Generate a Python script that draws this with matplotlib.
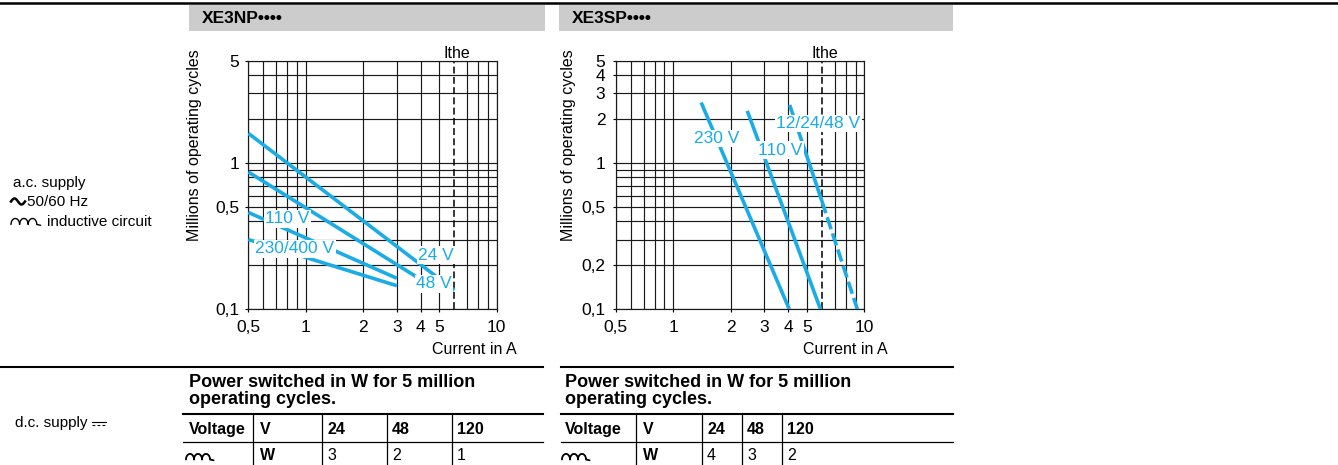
import numpy as np
import matplotlib
matplotlib.use('Agg')
import matplotlib.pyplot as plt
from matplotlib.ticker import FixedLocator, FixedFormatter, NullFormatter
from matplotlib.patches import Rectangle

plt.rcParams['font.family'] = ['Liberation Sans', 'DejaVu Sans']

W, H = 1338, 465
CYAN = '#1aace6'
GRID = '#1a1a1a'

# XE3NP, a.c. inductive: current (A) -> millions of operating cycles
np_series = ['24 V', '48 V', '110 V', '230/400 V']
np_current = [[0.5, 6.0], [0.5, 3.85], [0.5, 3.0], [0.5, 3.0]]
np_cycles = [[1.6, 0.135], [0.87, 0.165], [0.46, 0.163], [0.30, 0.145]]
np_label_pos = [(4.8, 0.235), (4.7, 0.149), (0.80, 0.415), (0.875, 0.259)]

# XE3SP
sp_series = ['230 V', '110 V', '12/24/48 V']
sp_current = [[1.4, 4.05], [2.44, 5.9], [4.07, 6.0, 9.2]]
sp_cycles = [[2.6, 0.1], [2.28, 0.1], [2.5, 0.55, 0.1]]
sp_label_pos = [(1.685, 1.475), (3.62, 1.23), (5.75, 1.87)]

ithe = 6.0

x_major = [0.5, 1, 2, 3, 4, 5, 10]
x_major_labels = ['0,5', '1', '2', '3', '4', '5', '10']
x_minor = [0.6, 0.7, 0.8, 0.9, 7, 8, 9]
y_grid = [0.1, 0.2, 0.3, 0.4, 0.5, 0.6, 0.7, 0.8, 0.9, 1, 2, 3, 4, 5]
np_yticks = [0.1, 0.5, 1, 5]
np_ylabels = ['0,1', '0,5', '1', '5']
sp_yticks = [0.1, 0.2, 0.5, 1, 2, 3, 4, 5]
sp_ylabels = ['0,1', '0,2', '0,5', '1', '2', '3', '4', '5']

# d.c. table
dc_voltages = ['24', '48', '120']
np_power = ['3', '2', '1']
sp_power = ['4', '3', '2']


def fig_box(x0, y0, x1, y1):
    # pixel box (top-left origin) -> figure fraction rect
    return [x0 / W, 1 - y1 / H, (x1 - x0) / W, (y1 - y0) / H]


def setup_chart(ax, yticks, ylabels, ypad):
    ax.set_xscale('log')
    ax.set_yscale('log')
    ax.set_xlim(0.5, 10)
    ax.set_ylim(0.1, 5)
    ax.xaxis.set_major_locator(FixedLocator(x_major))
    ax.xaxis.set_major_formatter(FixedFormatter(x_major_labels))
    ax.xaxis.set_minor_locator(FixedLocator(x_minor))
    ax.xaxis.set_minor_formatter(NullFormatter())
    ax.yaxis.set_major_locator(FixedLocator(yticks))
    ax.yaxis.set_major_formatter(FixedFormatter(ylabels))
    ax.yaxis.set_minor_locator(FixedLocator([v for v in y_grid if v not in yticks]))
    ax.yaxis.set_minor_formatter(NullFormatter())
    ax.grid(True, which='both', color=GRID, lw=0.85)
    ax.set_axisbelow(True)
    ax.tick_params(which='major', direction='out', length=2.5, width=0.85,
                   labelsize=12.5, colors='black')
    ax.tick_params(axis='x', which='major', pad=5)
    ax.tick_params(axis='y', which='major', pad=ypad)
    ax.tick_params(which='minor', length=0)
    for s in ax.spines.values():
        s.set_linewidth(0.85)
        s.set_color(GRID)
    ax.axvline(ithe, color='black', lw=1.1, ls=(0, (4.5, 2.2)), zorder=2)
    ax.annotate('Ithe', xy=(ithe, 1), xycoords=('data', 'axes fraction'),
                xytext=(2, 2), textcoords='offset points',
                ha='center', va='baseline', fontsize=11.5)


def add_labels(ax, names, positions):
    for name, (x, y) in zip(names, positions):
        ax.text(x, y, name, color=CYAN, fontsize=12.5, ha='center', va='center',
                zorder=5, bbox=dict(facecolor='white', edgecolor='none', pad=1.0))


def coil(ax, x0, yb, r, lw=1.0):
    xs, ys = [], []
    for k in range(3):
        t = np.linspace(np.pi, 0, 20)
        cx = x0 + r + 2 * r * k
        xs += list(cx + r * np.cos(t))
        ys += list(yb - r * 1.4 * np.sin(t))
    xs.append(xs[-1] + r * 0.9)
    ys.append(yb + 0.8)
    ax.plot(xs, ys, color='black', lw=lw, solid_capstyle='round')


fig = plt.figure(figsize=(W / 100, H / 100), dpi=100)

bg = fig.add_axes([0, 0, 1, 1], zorder=-1)
bg.set_xlim(0, W)
bg.set_ylim(H, 0)
bg.axis('off')

# header rules and grey title bars
bg.plot([0, W], [3, 3], color='black', lw=1.8)
bg.add_patch(Rectangle((189, 5), 356, 26, facecolor='#cccccc', edgecolor='none'))
bg.add_patch(Rectangle((559, 5), 394, 26, facecolor='#cccccc', edgecolor='none'))
bg.text(201.5, 23.3, 'XE3NP••••', fontsize=12.5, fontweight='bold', va='baseline')
bg.text(571.5, 23.3, 'XE3SP••••', fontsize=12.5, fontweight='bold', va='baseline')

# a.c. supply notes
bg.text(13, 186.5, 'a.c. supply', fontsize=11, va='baseline')
t = np.linspace(0, 1, 40)
bg.plot(11 + 14 * t, 201.5 - 3 * np.sin(2 * np.pi * t), color='black', lw=1.8)
bg.text(27, 206, '50/60 Hz', fontsize=11, va='baseline')
coil(bg, 11, 224.5, 4.3)
bg.text(47, 225.5, 'inductive circuit', fontsize=11, va='baseline')

# charts
ax1 = fig.add_axes(fig_box(248.3, 61, 496.7, 309.3))
setup_chart(ax1, np_yticks, np_ylabels, 4)
for xs, ys in zip(np_current, np_cycles):
    ax1.plot(xs, ys, color=CYAN, lw=2.6, solid_capstyle='butt', zorder=3)
add_labels(ax1, np_series, np_label_pos)

ax2 = fig.add_axes(fig_box(615.7, 61, 864.3, 309.3))
setup_chart(ax2, sp_yticks, sp_ylabels, 5)
for xs, ys in zip(sp_current, sp_cycles):
    xs = np.array(xs)
    ys = np.array(ys)
    solid = xs <= ithe
    dashed = xs >= ithe
    ax2.plot(xs[solid], ys[solid], color=CYAN, lw=2.6, solid_capstyle='butt', zorder=3)
    if dashed.sum() > 1:
        ax2.plot(xs[dashed], ys[dashed], color=CYAN, lw=2.6, ls=(0, (3.5, 1.2)),
                 dash_capstyle='butt', zorder=3)
add_labels(ax2, sp_series, sp_label_pos)

for xc, xr in [(195, 517), (568, 888)]:
    bg.text(xc, 145, 'Millions of operating cycles', fontsize=11.5, rotation=90,
            ha='center', va='center')
    bg.text(xr, 354, 'Current in A', fontsize=11.5, ha='right', va='baseline')

# d.c. supply tables
bg.text(15, 427, 'd.c. supply', fontsize=11, va='baseline')
bg.plot([92, 106], [421.5, 421.5], color='black', lw=0.8)
bg.plot([92, 106], [424.5, 424.5], color='black', lw=0.8, ls=(0, (2.5, 2)))

tables = [
    dict(left=183, right=543, text_x=189, cols=[253, 322, 387, 452], power=np_power),
    dict(left=561, right=953, text_x=565, cols=[636, 702, 742, 782], power=sp_power),
]
for tb, rule_left in zip(tables, [0, 561]):
    bg.plot([rule_left, tb['right']], [367, 367], color='black', lw=1.5)
    bg.text(tb['text_x'], 387.3, 'Power switched in W for 5 million',
            fontsize=13, fontweight='bold', va='baseline')
    bg.text(tb['text_x'], 404.3, 'operating cycles.', fontsize=13,
            fontweight='bold', va='baseline')
    bg.plot([tb['left'], tb['right']], [414, 414], color='black', lw=1.5)
    bg.plot([tb['left'], tb['right']], [442, 442], color='black', lw=0.9)
    for cx in tb['cols']:
        bg.plot([cx, cx], [414, H], color='black', lw=0.9)
    bg.text(tb['text_x'], 434, 'Voltage', fontsize=11.5, fontweight='bold', va='baseline')
    bg.text(tb['cols'][0] + 7, 434, 'V', fontsize=11.5, fontweight='bold', va='baseline')
    bg.text(tb['cols'][0] + 7, 460, 'W', fontsize=11.5, fontweight='bold', va='baseline')
    coil(bg, tb['text_x'] - 3, 459.5, 4.0, lw=1.3)
    for cx, v, p in zip(tb['cols'][1:], dc_voltages, tb['power']):
        bg.text(cx + 5, 434, v, fontsize=11.5, fontweight='bold', va='baseline')
        bg.text(cx + 5, 460, p, fontsize=11.5, va='baseline')

fig.savefig('out.png', dpi=100)
